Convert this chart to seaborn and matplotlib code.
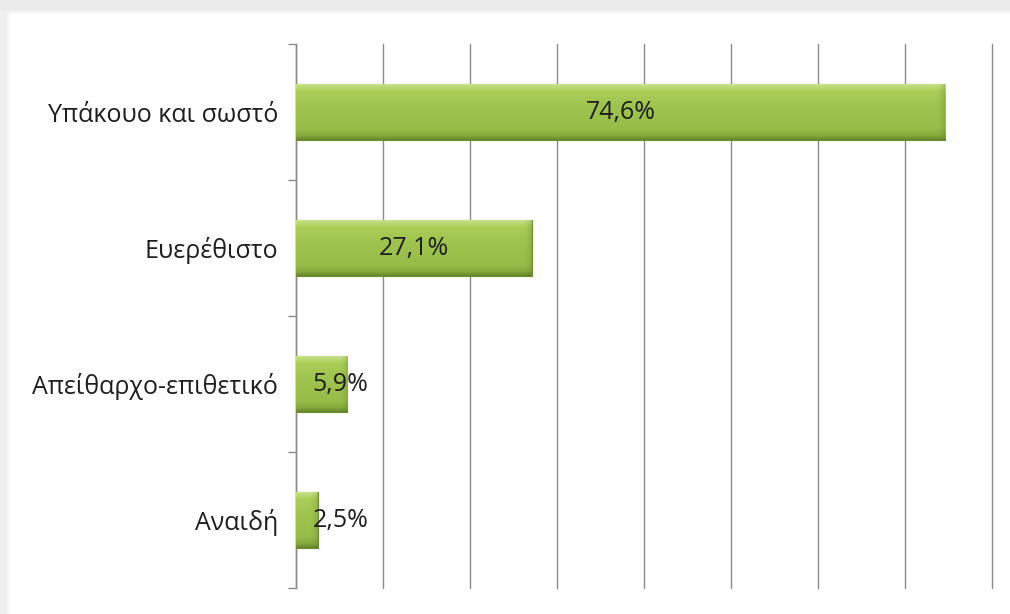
import numpy as np
import pandas as pd
import matplotlib
matplotlib.use("Agg")
import matplotlib.pyplot as plt
from matplotlib.colors import LinearSegmentedColormap
import seaborn as sns

# Survey answers and their shares (%)
categories = ["Υπάκουο και σωστό", "Ευερέθιστο", "Απείθαρχο-επιθετικό", "Αναιδή"]
values = [74.6, 27.1, 5.9, 2.5]
value_labels = ["74,6%", "27,1%", "5,9%", "2,5%"]

sns.set_theme(style="white")
plt.rcParams["font.family"] = ["Open Sans", "DejaVu Sans"]

df = pd.DataFrame({"category": categories, "value": values})

fig = plt.figure(figsize=(10.10, 6.14), dpi=100)
fig.patch.set_facecolor("white")

# soft grey frame along the top and left edges
bg = fig.add_axes([0, 0, 1, 1], zorder=-5)
h, w = 614, 1010
yy, xx = np.mgrid[0:h, 0:w]
shade = np.ones((h, w))
shade = np.minimum(shade, np.clip(0.93 + 0.07 * (xx - 6) / 4.0, 0.93, 1.0))
shade = np.minimum(shade, np.clip(0.92 + 0.08 * (yy - 9) / 5.0, 0.92, 1.0))
bg.imshow(shade, cmap="gray", vmin=0, vmax=1, aspect="auto", interpolation="bilinear")
bg.set_axis_off()

ax = fig.add_axes([296 / w, 1 - 588 / h, (992 - 296) / w, (588 - 44) / h])
ax.set_facecolor("none")

sns.barplot(data=df, x="value", y="category", orient="h", color="#9cc24b",
            width=0.41, edgecolor="#6b8a2c", linewidth=0.8, ax=ax, zorder=3)

# bevelled green fill on each bar (dark lower rim, lighter upper rim)
bevel = LinearSegmentedColormap.from_list(
    "bevel", [(0.0, "#67872a"), (0.08, "#86aa3c"), (0.2, "#97bd48"),
              (0.6, "#9fc44e"), (0.88, "#a9cd58"), (1.0, "#c8e38a")])
grad = np.linspace(0, 1, 128).reshape(-1, 1)

# darker strip at the right end of each bar
edge = np.zeros((1, 32, 4))
edge[..., 0], edge[..., 1], edge[..., 2] = 0.36, 0.48, 0.16
edge[..., 3] = np.linspace(0.0, 0.45, 32) ** 1.5
edge_w = 0.9

for p in ax.patches:
    x0, y0 = p.get_x(), p.get_y()
    bw, bh = p.get_width(), p.get_height()
    im = ax.imshow(grad, cmap=bevel, vmin=0, vmax=1, aspect="auto",
                   extent=(x0, x0 + bw, y0 + bh, y0), origin="lower",
                   interpolation="bilinear", zorder=4)
    im.set_clip_path(p)
    ew = min(edge_w, bw * 0.4)
    im2 = ax.imshow(edge, aspect="auto", extent=(x0 + bw - ew, x0 + bw, y0 + bh, y0),
                    interpolation="bilinear", zorder=4.5)
    im2.set_clip_path(p)

for i, (v, lab) in enumerate(zip(values, value_labels)):
    if v > 15:
        ax.text(v / 2, i, lab, ha="center", va="center", fontsize=18,
                color="#1e1e1e", zorder=6)
    else:
        ax.text(1.9, i, lab, ha="left", va="center", fontsize=18,
                color="#1e1e1e", zorder=6)

ax.set_xlim(0, 80)
ax.set_ylim(3.5, -0.5)
ax.set_xticks(np.arange(0, 81, 10))
ax.set_xticklabels([])
ax.tick_params(axis="x", length=0)
ax.xaxis.grid(True, color="#8a8a8a", linewidth=1.0, zorder=0)
ax.set_axisbelow(True)
for gl in ax.get_xgridlines():
    gl.set_clip_on(False)

ax.set_yticks(range(len(categories)))
ax.set_yticklabels(categories, fontsize=18, color="#1e1e1e")
ax.set_yticks(np.arange(-0.5, len(categories), 1.0), minor=True)
ax.tick_params(axis="y", which="major", length=0, pad=13)
ax.tick_params(axis="y", which="minor", length=6, width=1.0, color="#8a8a8a", left=True)

ax.set_xlabel("")
ax.set_ylabel("")
for s in ["top", "right", "bottom"]:
    ax.spines[s].set_visible(False)
ax.spines["left"].set_color("#8a8a8a")
ax.spines["left"].set_linewidth(1.0)

fig.savefig("out.png", dpi=100, facecolor="white")
